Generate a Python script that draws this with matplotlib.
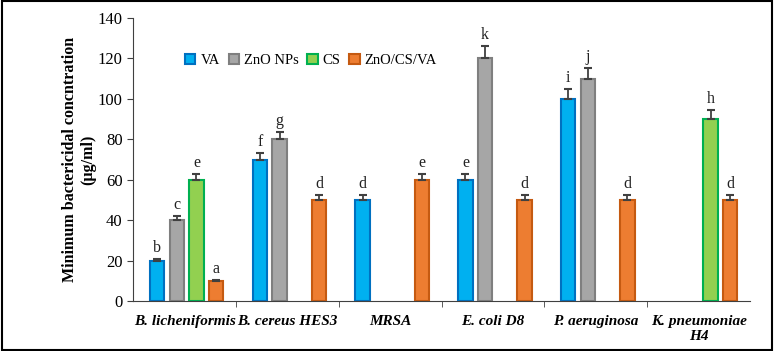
import matplotlib.pyplot as plt
import numpy as np
from matplotlib.patches import Rectangle

plt.rcParams['font.family'] = ['Liberation Serif', 'DejaVu Serif']

strains = ["B. licheniformis", "B. cereus HES3", "MRSA", "E. coli D8", "P. aeruginosa", "K. pneumoniae\nH4"]
series = ["VA", "ZnO NPs", "CS", "ZnO/CS/VA"]

# nan = not tested (no bar)
va = [20, 70, 50, 60, 100, np.nan]
zno = [40, 80, np.nan, 120, 110, np.nan]
cs = [60, np.nan, np.nan, np.nan, np.nan, 90]
combo = [10, 50, 60, 50, 50, 50]

va_err = [1, 3, 2.5, 3, 5, 0]
zno_err = [2, 3.5, 0, 6, 5.5, 0]
cs_err = [3, 0, 0, 0, 0, 4.5]
combo_err = [0.5, 2.5, 3, 2.5, 2.5, 2.5]

va_lbl = ["b", "f", "d", "e", "i", ""]
zno_lbl = ["c", "g", "", "k", "j", ""]
cs_lbl = ["e", "", "", "", "", "h"]
combo_lbl = ["a", "d", "e", "d", "d", "d"]

values = [va, zno, cs, combo]
errors = [va_err, zno_err, cs_err, combo_err]
letters = [va_lbl, zno_lbl, cs_lbl, combo_lbl]
fills = ["#00B0F0", "#A6A6A6", "#92D050", "#ED7D31"]
edges = ["#0070C0", "#7F7F7F", "#00B050", "#C55A11"]

fig = plt.figure(figsize=(7.74, 3.51), dpi=100)
ax = fig.add_axes([0.172, 0.1425, 0.797, 0.806])

x = np.arange(len(strains))
step = 0.192
width = 0.14
for i in range(4):
    pos = x + (i - 1.5) * step + 0.02
    vals = np.array(values[i], dtype=float)
    errs = np.array(errors[i], dtype=float)
    ok = ~np.isnan(vals)
    ax.bar(pos[ok], vals[ok], width, color=fills[i], edgecolor=edges[i], linewidth=1.5,
           label=series[i], zorder=2)
    ax.errorbar(pos[ok], vals[ok], yerr=[np.zeros(ok.sum()), errs[ok]], fmt="none",
                ecolor="#404040", elinewidth=1.3, capsize=3, capthick=1.5, zorder=3)
    for p, v, e, t in zip(pos, vals, errs, letters[i]):
        if t and not np.isnan(v):
            ax.text(p, v + e + 1.5, t, ha="center", va="bottom", fontsize=11.5, color="#222222")

ax.set_xlim(-0.5, 5.5)
ax.set_ylim(0, 140)
ax.set_yticks(range(0, 141, 20))
ax.tick_params(axis="y", labelsize=12, direction="out", length=4, color="#404040")
ax.set_xticks(x)
ax.set_xticklabels(strains, fontsize=11, fontweight="bold", fontstyle="italic")
ax.tick_params(axis="x", which="major", length=0, pad=10)
ax.set_xticks(np.arange(0.5, 5.5, 1), minor=True)
ax.tick_params(axis="x", which="minor", length=4, direction="out", color="#404040")
ax.spines["top"].set_visible(False)
ax.spines["right"].set_visible(False)
ax.spines["left"].set_color("#404040")
ax.spines["bottom"].set_color("#404040")
ax.set_ylabel("Minimum bactericidal concntration\n(µg/ml)", fontsize=11.5, fontweight="bold",
              labelpad=1)

ax.legend(loc="upper left", bbox_to_anchor=(0.063, 0.92), ncol=4, frameon=False, fontsize=10.5,
          handlelength=0.7, handleheight=0.7, handletextpad=0.35, columnspacing=0.6)

fig.patches.append(Rectangle((0.002, 0.003), 0.996, 0.994, transform=fig.transFigure,
                             fill=False, edgecolor="black", linewidth=1.5))

fig.savefig("out.png", dpi=100)
